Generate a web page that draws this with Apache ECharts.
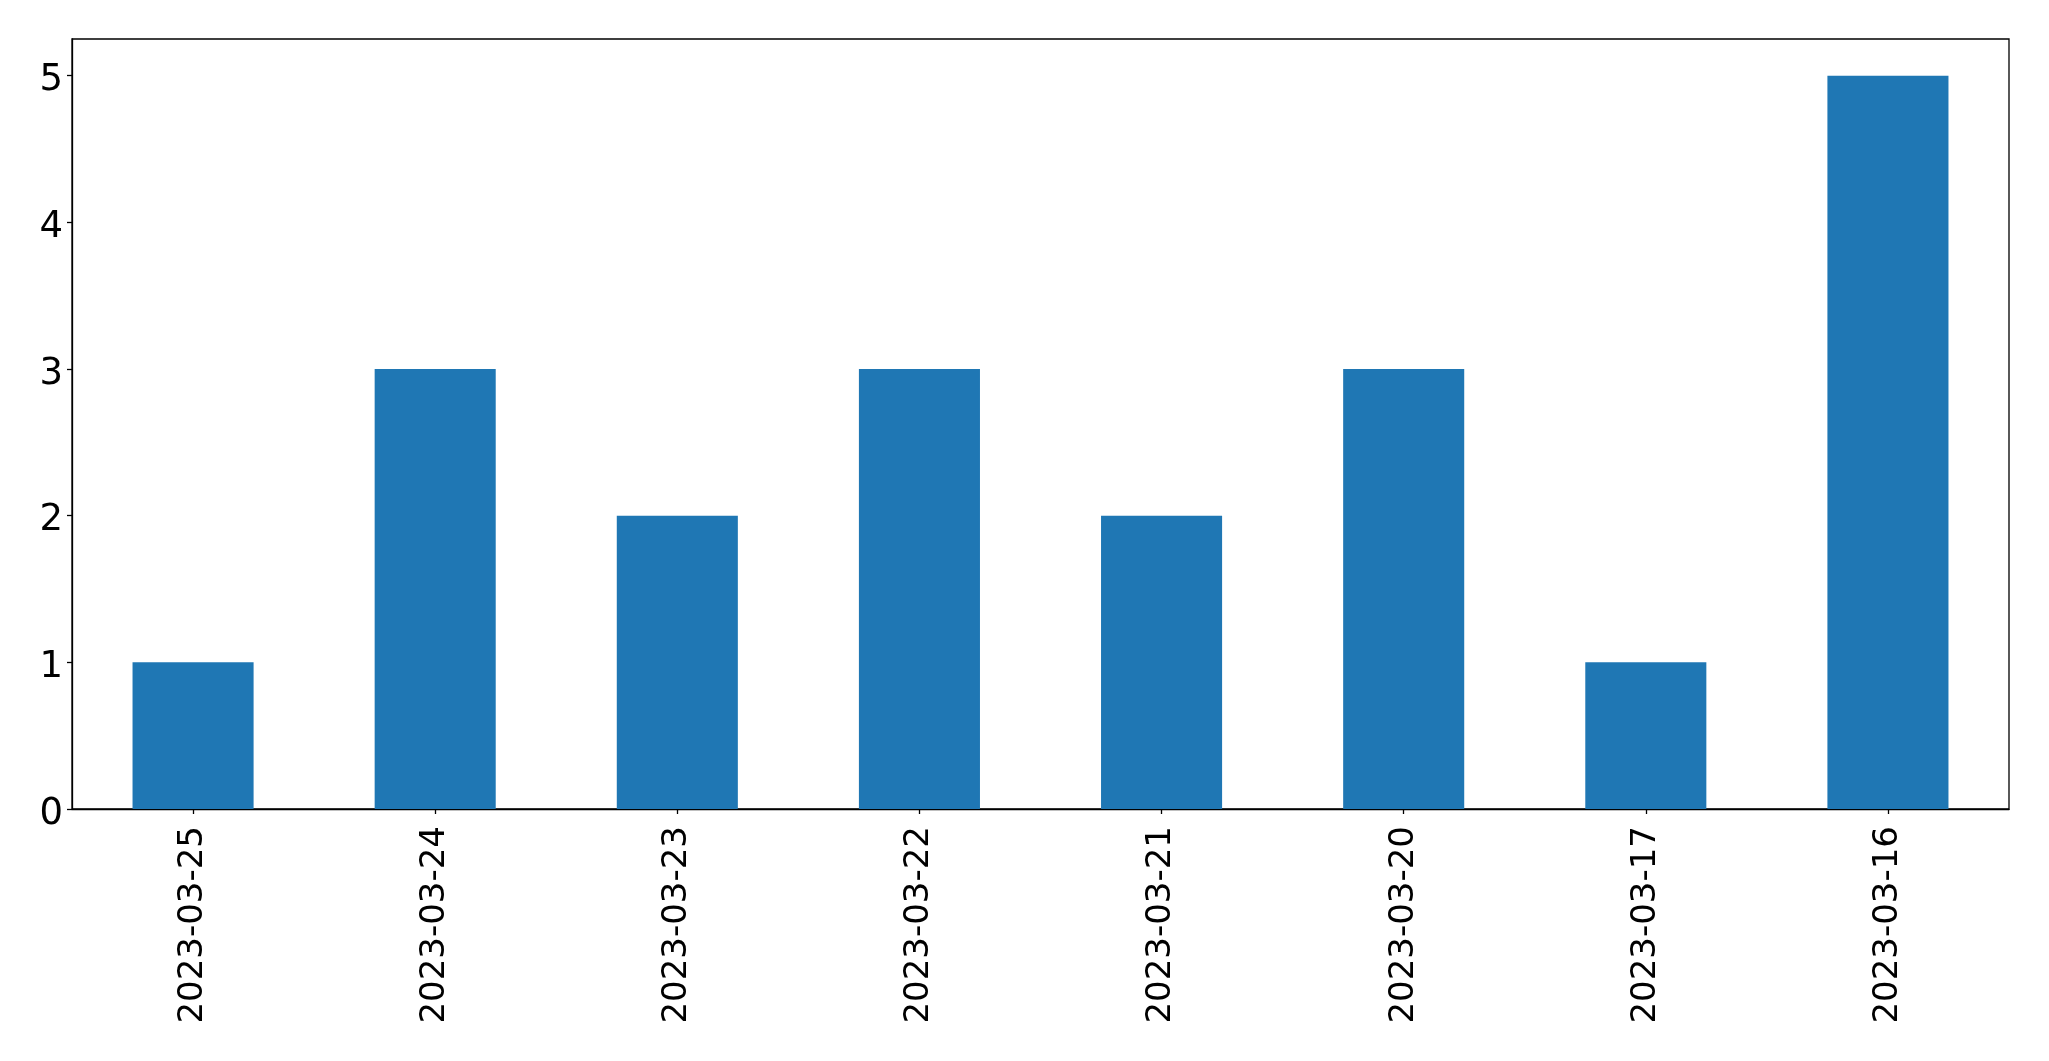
<!DOCTYPE html>
<html>
<head>
<meta charset="utf-8">
<script src="https://cdn.jsdelivr.net/npm/echarts@6/dist/echarts.min.js"></script>
<style>
html,body{margin:0;padding:0;background:#fff;}
#c{width:2049px;height:1061px;}
</style>
</head>
<body>
<div id="c"></div>
<script>
const categories = ['2023-03-25','2023-03-24','2023-03-23','2023-03-22','2023-03-21','2023-03-20','2023-03-17','2023-03-16'];
const values = [1,3,2,3,2,3,1,5];
const yTicks = [0,1,2,3,4,5];

const chart = echarts.init(document.getElementById('c'), null, {renderer:'canvas'});
const font = 'DejaVu Sans';
chart.setOption({
  animation:false,
  backgroundColor:'#fff',
  grid:{left:72,right:40,top:39,bottom:252,show:true,borderColor:'#000',borderWidth:1.3,backgroundColor:'transparent'},
  xAxis:{
    type:'category',
    data:categories,
    boundaryGap:true,
    axisLine:{show:true,lineStyle:{color:'#000',width:1.3}},
    axisTick:{show:true,alignWithLabel:true,length:5,lineStyle:{color:'#000',width:1.3}},
    axisLabel:{rotate:90,color:'#000',fontFamily:font,fontSize:34,margin:17,interval:0},
    splitLine:{show:false}
  },
  yAxis:{
    type:'value',
    min:0,max:5.25,interval:1,
    axisLine:{show:true,lineStyle:{color:'#000',width:1.3}},
    axisTick:{show:true,length:5,lineStyle:{color:'#000',width:1.3}},
    axisLabel:{color:'#000',fontFamily:font,fontSize:37,margin:9,showMaxLabel:false,
      rich:{t:{fontFamily:font,fontSize:37,color:'#000',padding:[10,0,0,0]}},
      formatter:function(v){return yTicks.indexOf(v)>=0?'{t|'+v+'}':'';}},
    splitLine:{show:false}
  },
  series:[{
    type:'bar',
    data:values,
    barWidth:'50%',
    itemStyle:{color:'#1f77b4'}
  }]
});
</script>
</body>
</html>
